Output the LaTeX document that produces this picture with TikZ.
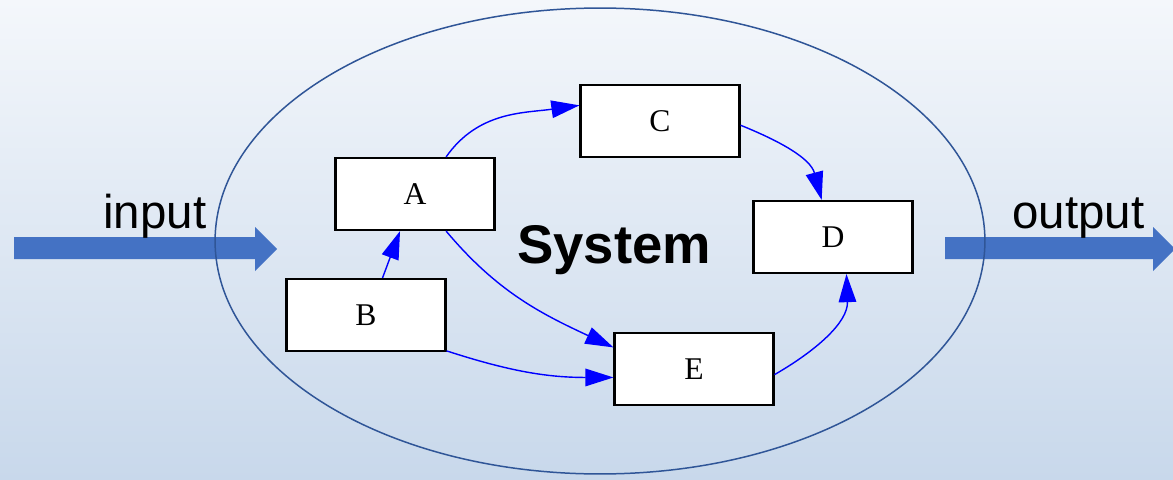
\documentclass[tikz,border=0pt]{standalone}
\usepackage{fontspec}
\setmainfont{Liberation Serif}
\newfontfamily\arialfont{Liberation Sans}
\usetikzlibrary{arrows.meta}
\definecolor{bgtop}{HTML}{F4F7FB}
\definecolor{bgbot}{HTML}{C8D8EB}
\definecolor{ellcol}{HTML}{2F5597}
\definecolor{bigarrow}{HTML}{4472C4}
\definecolor{conn}{HTML}{0000FF}
\begin{document}
\begin{tikzpicture}[x=0.02cm,y=-0.02cm,
  box/.style={draw=black, line width=1.2pt, fill=white, minimum width=3.18cm, minimum height=1.44cm, inner sep=0pt, font=\fontsize{18}{20}\selectfont},
  link/.style={draw=conn, line width=0.8pt, -{Triangle[length=16pt,width=10pt]}},
  bigarr/.style={fill=bigarrow, draw=none},
  lbl/.style={font=\arialfont\fontsize{27}{30}\selectfont, inner sep=0pt, anchor=base west},
  title/.style={font=\arialfont\bfseries\fontsize{31}{34}\selectfont, inner sep=0pt, anchor=base west}
]
\shade[top color=bgtop, bottom color=bgbot] (0,0) rectangle (1173,480);
\useasboundingbox (0,0) rectangle (1173,480);
% big input/output arrows
\fill[bigarr] (14,237) -- (255,237) -- (255,227) -- (277,249) -- (255,271) -- (255,259) -- (14,259) -- cycle;
\fill[bigarr] (945,237) -- (1153,237) -- (1153,227) -- (1175,249) -- (1153,271) -- (1153,259) -- (945,259) -- cycle;
% system boundary
\draw[ellcol, line width=0.85pt] (600,241) ellipse [x radius=7.7cm, y radius=4.66cm];
% labels
\node[lbl] (inp) at (103,228) {input};
\node[lbl] (outp) at (1012,228) {output};
\node[title] (sys) at (517,263) {System};
% boxes
\node[box] (A) at (415,194) {A};
\node[box] (B) at (366,315) {B};
\node[box] (C) at (660,121) {C};
\node[box] (D) at (833,237) {D};
\node[box] (E) at (694,369) {E};
% connectors
\draw[link] (A.50) to[out=55, in=188] (C.169);
\draw[link] (B.66) -- (A.248);
\draw[link] (A.310) to[out=-50, in=155] (E.165);
\draw[link] (B.-24) to[out=-18, in=180] (E.186);
\draw[link] (C.-3) to[out=-22, in=105] (D.107);
\draw[link] (E.-4) to[out=30, in=-88] (D.-70);
\end{tikzpicture}
\end{document}
